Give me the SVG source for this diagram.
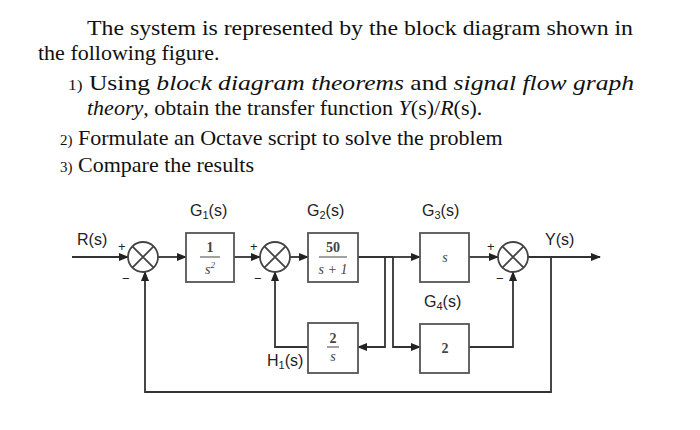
<svg xmlns="http://www.w3.org/2000/svg" width="700" height="430" viewBox="0 0 700 430">
<defs>
<marker id="ar" markerWidth="10" markerHeight="8" refX="9" refY="4" orient="auto" markerUnits="userSpaceOnUse"><path d="M0,0 L10,4 L0,8 z" fill="#222"/></marker>
<style>
.t{font-family:"Liberation Serif",serif;font-size:22px;fill:#111}
.n{font-family:"Liberation Serif",serif;font-size:15px;fill:#111}
.l{font-family:"Liberation Sans",Arial,sans-serif;font-size:16px;fill:#222}
.s{font-family:"Liberation Sans",Arial,sans-serif;font-size:13px;fill:#222}
.b{fill:#fff;stroke:#555;stroke-width:1.8}
.c{fill:none;stroke:#444;stroke-width:1.8}
.w{fill:none;stroke:#333;stroke-width:1.8}
.f{font-family:"Liberation Serif",serif;font-size:14px;fill:#444;font-style:italic;text-anchor:middle}
.fn{font-family:"Liberation Serif",serif;font-size:14px;fill:#444;font-weight:bold;text-anchor:middle}
</style>
</defs>
<g id="text">
<text class="t" x="87" y="35" textLength="546" lengthAdjust="spacingAndGlyphs">The system is represented by the block diagram shown in</text>
<text class="t" x="38" y="60">the following figure.</text>
<text class="t" x="68" y="90" textLength="566" lengthAdjust="spacingAndGlyphs"><tspan class="n">1)</tspan> Using <tspan font-style="italic">block diagram theorems</tspan> and <tspan font-style="italic">signal flow graph</tspan></text>
<text class="t" x="87" y="115"><tspan font-style="italic">theory</tspan>, obtain the transfer function <tspan font-style="italic">Y</tspan>(s)/<tspan font-style="italic">R</tspan>(s).</text>
<text class="t" x="60" y="145"><tspan class="n">2)</tspan> Formulate an Octave script to solve the problem</text>
<text class="t" x="60" y="172"><tspan class="n">3)</tspan> Compare the results</text>
</g>
<g id="connectors">
<line class="w" x1="72" y1="257" x2="128" y2="257" marker-end="url(#ar)"/>
<line class="w" x1="158" y1="257" x2="186" y2="257" marker-end="url(#ar)"/>
<line class="w" x1="234" y1="257" x2="260" y2="257" marker-end="url(#ar)"/>
<line class="w" x1="290" y1="257" x2="308" y2="257" marker-end="url(#ar)"/>
<polyline class="w" points="358,257 393,257"/>
<polyline class="w" points="385,257 385,347 358,347" marker-end="url(#ar)"/>
<polyline class="w" points="308,347 275,347 275,272" marker-end="url(#ar)"/>
<line class="w" x1="393" y1="257" x2="420" y2="257" marker-end="url(#ar)"/>
<polyline class="w" points="393,257 393,347 420,347" marker-end="url(#ar)"/>
<line class="w" x1="469" y1="257" x2="498" y2="257" marker-end="url(#ar)"/>
<polyline class="w" points="469,347 513,347 513,272" marker-end="url(#ar)"/>
<line class="w" x1="528" y1="257" x2="600" y2="257" marker-end="url(#ar)"/>
<polyline class="w" points="551,257 551,392 145,392 145,272" marker-end="url(#ar)"/>
</g>
<g id="sum1"><circle class="c" cx="143" cy="257" r="15"/><path class="c" d="M132.4,246.4 L153.6,267.6 M153.6,246.4 L132.4,267.6"/><text class="s" x="118" y="251">+</text><text class="s" x="122" y="283">−</text></g>
<g id="sum2"><circle class="c" cx="275" cy="257" r="15"/><path class="c" d="M264.4,246.4 L285.6,267.6 M285.6,246.4 L264.4,267.6"/><text class="s" x="250" y="251">+</text><text class="s" x="254" y="283">−</text></g>
<g id="sum3"><circle class="c" cx="513" cy="257" r="15"/><path class="c" d="M502.4,246.4 L523.6,267.6 M523.6,246.4 L502.4,267.6"/><text class="s" x="487" y="251">+</text><text class="s" x="496" y="283">−</text></g>
<g id="G1"><rect class="b" x="186" y="233" width="48" height="49"/><text class="fn" x="210" y="252">1</text><line x1="200" y1="257" x2="220" y2="257" stroke="#444"/><text class="f" x="210" y="274">s<tspan font-size="9" dy="-6">2</tspan></text><text class="l" x="190" y="216">G<tspan font-size="11" dy="3">1</tspan><tspan dy="-3">(s)</tspan></text></g>
<g id="G2"><rect class="b" x="308" y="233" width="50" height="49"/><text class="fn" x="333" y="252">50</text><line x1="319" y1="257" x2="347" y2="257" stroke="#444"/><text class="f" x="333" y="274">s + 1</text><text class="l" x="307" y="216">G<tspan font-size="11" dy="3">2</tspan><tspan dy="-3">(s)</tspan></text></g>
<g id="H1"><rect class="b" x="308" y="323" width="50" height="50"/><text class="fn" x="333" y="343">2</text><line x1="327" y1="347" x2="339" y2="347" stroke="#444"/><text class="f" x="333" y="361">s</text><text class="l" x="267" y="366">H<tspan font-size="11" dy="3">1</tspan><tspan dy="-3">(s)</tspan></text></g>
<g id="G3"><rect class="b" x="420" y="233" width="49" height="49"/><text class="f" x="445" y="262">s</text><text class="l" x="422" y="216">G<tspan font-size="11" dy="3">3</tspan><tspan dy="-3">(s)</tspan></text></g>
<g id="G4"><rect class="b" x="420" y="324" width="49" height="49"/><text class="fn" x="445" y="353">2</text><text class="l" x="424" y="307">G<tspan font-size="11" dy="3">4</tspan><tspan dy="-3">(s)</tspan></text></g>
<text class="l" x="77" y="245">R(s)</text>
<text class="l" x="545" y="245">Y(s)</text>
</svg>
